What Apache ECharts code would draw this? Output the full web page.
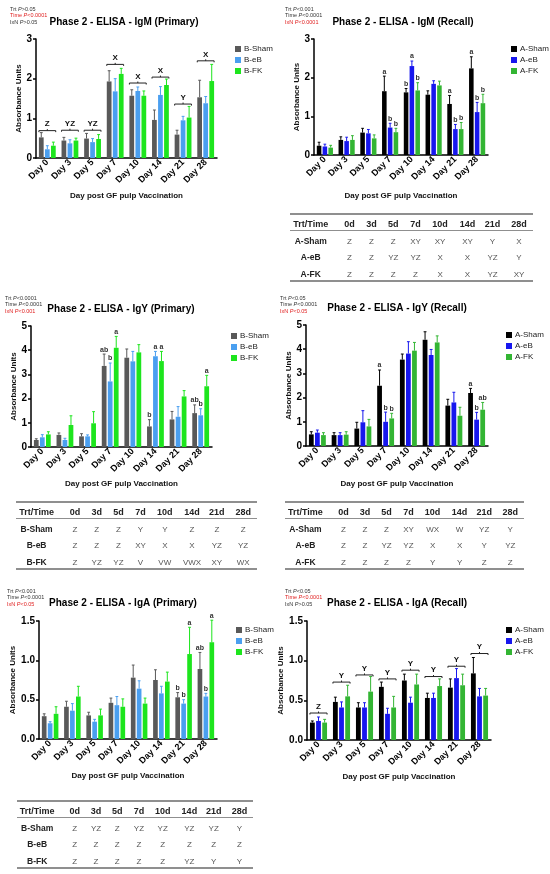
<!DOCTYPE html>
<html>
<head>
<meta charset="utf-8">
<script src="https://cdn.jsdelivr.net/npm/echarts@6/dist/echarts.min.js"></script>
<style>
  body { margin: 0; background: #fff; }
  #page { position: relative; width: 550px; height: 874px; font-family: 'Liberation Sans', Arial, sans-serif; }
  #chart { position: absolute; left: 0; top: 0; width: 550px; height: 874px; }
  .tbl { position: absolute; height: 70px; }
  .tbl .ln { position: absolute; left: 0; right: 0; background: #8f8f8f; }
  .tbl .c { position: absolute; transform: translate(-50%, -50%); white-space: nowrap; font-size: 8px; color: #555; }
  .tbl .h { font-weight: bold; color: #222; font-size: 9px; }
  .tbl .r { font-weight: bold; color: #222; font-size: 8.5px; }
</style>
</head>
<body>
<div id="page"><div id="chart"></div></div>
<script>
const days = ['Day 0', 'Day 3', 'Day 5', 'Day 7', 'Day 10', 'Day 14', 'Day 21', 'Day 28']
const primaryNames = ['B-Sham', 'B-eB', 'B-FK']
const recallNames = ['A-Sham', 'A-eB', 'A-FK']

// IgM primary
const igmPrimSham = [0.52, 0.44, 0.49, 1.93, 1.57, 0.96, 0.59, 1.53]
const igmPrimShamSem = [0.12, 0.08, 0.13, 0.27, 0.15, 0.25, 0.11, 0.43]
const igmPrimEB = [0.22, 0.37, 0.40, 1.68, 1.69, 1.59, 0.95, 1.38]
const igmPrimEBSem = [0.09, 0.09, 0.09, 0.32, 0.10, 0.21, 0.10, 0.17]
const igmPrimFK = [0.31, 0.44, 0.48, 2.12, 1.57, 1.84, 1.02, 1.94]
const igmPrimFKSem = [0.09, 0.06, 0.11, 0.14, 0.12, 0.15, 0.28, 0.42]
const igmPrimBracketY = [0.69, 0.70, 0.70, 2.36, 1.89, 2.04, 1.36, 2.45]
const igmPrimBracketLabels = ['Z', 'YZ', 'YZ', 'X', 'X', 'X', 'Y', 'X']

// IgM recall
const igmRecSham = [0.24, 0.39, 0.58, 1.65, 1.62, 1.56, 1.32, 2.24]
const igmRecShamSem = [0.09, 0.08, 0.11, 0.39, 0.10, 0.10, 0.22, 0.30]
const igmRecEB = [0.22, 0.36, 0.56, 0.71, 2.30, 1.84, 0.67, 1.11]
const igmRecEBSem = [0.06, 0.10, 0.10, 0.11, 0.13, 0.08, 0.12, 0.25]
const igmRecFK = [0.19, 0.39, 0.43, 0.59, 1.67, 1.80, 0.67, 1.34]
const igmRecFKSem = [0.06, 0.11, 0.09, 0.10, 0.20, 0.11, 0.17, 0.23]
const igmRecLetters = [
  ['', '', '', 'a', 'b', '', 'a', 'a'],
  ['', '', '', 'b', 'a', '', 'b', 'b'],
  ['', '', '', 'b', 'b', '', 'b', 'b']
]

// IgY primary
const igyPrimSham = [0.29, 0.50, 0.44, 3.35, 3.69, 0.85, 1.14, 1.40]
const igyPrimShamSem = [0.05, 0.08, 0.11, 0.49, 0.36, 0.28, 0.33, 0.34]
const igyPrimEB = [0.40, 0.29, 0.44, 2.71, 3.54, 3.75, 1.25, 1.31]
const igyPrimEBSem = [0.11, 0.07, 0.06, 0.76, 0.41, 0.20, 0.42, 0.27]
const igyPrimFK = [0.52, 0.91, 0.98, 4.10, 3.91, 3.55, 2.09, 2.51]
const igyPrimFKSem = [0.11, 0.38, 0.48, 0.47, 0.32, 0.40, 0.24, 0.45]
const igyPrimLetters = [
  ['', '', '', 'ab', '', 'b', '', 'ab'],
  ['', '', '', 'b', '', 'a', '', 'b'],
  ['', '', '', 'a', '', 'a', '', 'a']
]

// IgY recall
const igyRecSham = [0.48, 0.45, 0.72, 2.49, 3.57, 4.39, 1.67, 2.19]
const igyRecShamSem = [0.11, 0.10, 0.26, 0.65, 0.23, 0.33, 0.26, 0.19]
const igyRecEB = [0.55, 0.45, 0.98, 1.00, 3.82, 3.76, 1.80, 1.09]
const igyRecEBSem = [0.11, 0.10, 0.48, 0.40, 0.49, 0.23, 0.42, 0.30]
const igyRecFK = [0.45, 0.47, 0.81, 1.14, 3.94, 4.28, 1.25, 1.50]
const igyRecFKSem = [0.10, 0.12, 0.29, 0.21, 0.34, 0.27, 0.35, 0.30]
const igyRecLetters = [
  ['', '', '', 'a', '', '', '', 'a'],
  ['', '', '', 'b', '', '', '', 'b'],
  ['', '', '', 'b', '', '', '', 'ab']
]

// IgA primary
const igaPrimSham = [0.29, 0.41, 0.30, 0.46, 0.78, 0.75, 0.53, 0.89]
const igaPrimShamSem = [0.03, 0.07, 0.04, 0.06, 0.16, 0.13, 0.06, 0.21]
const igaPrimEB = [0.20, 0.36, 0.22, 0.43, 0.64, 0.58, 0.45, 0.54]
const igaPrimEBSem = [0.02, 0.09, 0.03, 0.11, 0.10, 0.09, 0.05, 0.04]
const igaPrimFK = [0.32, 0.54, 0.30, 0.41, 0.45, 0.73, 1.08, 1.23]
const igaPrimFKSem = [0.09, 0.13, 0.08, 0.10, 0.07, 0.12, 0.34, 0.28]
const igaPrimLetters = [
  ['', '', '', '', '', '', 'b', 'ab'],
  ['', '', '', '', '', '', 'b', 'b'],
  ['', '', '', '', '', '', 'a', 'a']
]

// IgA recall
const igaRecSham = [0.22, 0.48, 0.41, 0.67, 0.75, 0.53, 0.66, 0.84]
const igaRecShamSem = [0.02, 0.06, 0.06, 0.06, 0.08, 0.06, 0.11, 0.20]
const igaRecEB = [0.24, 0.41, 0.41, 0.33, 0.47, 0.53, 0.78, 0.55]
const igaRecEBSem = [0.05, 0.07, 0.06, 0.07, 0.07, 0.06, 0.12, 0.10]
const igaRecFK = [0.22, 0.55, 0.61, 0.41, 0.70, 0.68, 0.69, 0.56]
const igaRecFKSem = [0.04, 0.14, 0.19, 0.14, 0.13, 0.09, 0.14, 0.09]
const igaRecBracketY = [0.34, 0.73, 0.82, 0.77, 0.88, 0.80, 0.93, 1.09]
const igaRecBracketLabels = ['Z', 'Y', 'Y', 'Y', 'Y', 'Y', 'Y', 'Y']

// tables of letters
const tableHead = ['Trt/Time', '0d', '3d', '5d', '7d', '10d', '14d', '21d', '28d']
const igmRecTable = [
  ['A-Sham', 'Z', 'Z', 'Z', 'XY', 'XY', 'XY', 'Y', 'X'],
  ['A-eB', 'Z', 'Z', 'YZ', 'YZ', 'X', 'X', 'YZ', 'Y'],
  ['A-FK', 'Z', 'Z', 'Z', 'Z', 'X', 'X', 'YZ', 'XY']
]
const igyPrimTable = [
  ['B-Sham', 'Z', 'Z', 'Z', 'Y', 'Y', 'Z', 'Z', 'Z'],
  ['B-eB', 'Z', 'Z', 'Z', 'XY', 'X', 'X', 'YZ', 'YZ'],
  ['B-FK', 'Z', 'YZ', 'YZ', 'V', 'VW', 'VWX', 'XY', 'WX']
]
const igyRecTable = [
  ['A-Sham', 'Z', 'Z', 'Z', 'XY', 'WX', 'W', 'YZ', 'Y'],
  ['A-eB', 'Z', 'Z', 'YZ', 'YZ', 'X', 'X', 'Y', 'YZ'],
  ['A-FK', 'Z', 'Z', 'Z', 'Z', 'Y', 'Y', 'Z', 'Z']
]
const igaPrimTable = [
  ['B-Sham', 'Z', 'YZ', 'Z', 'YZ', 'YZ', 'YZ', 'YZ', 'Y'],
  ['B-eB', 'Z', 'Z', 'Z', 'Z', 'Z', 'Z', 'Z', 'Z'],
  ['B-FK', 'Z', 'Z', 'Z', 'Z', 'Z', 'YZ', 'Y', 'Y']
]

const FF = "'Liberation Sans', Arial, sans-serif"
const primaryColors = ['#595959', '#4a9ff0', '#1de51d']
const recallColors = ['#000000', '#1717ee', '#33b533']
const BAR_FRAC = 0.21
const GAP_FRAC = 0.27

const panels = [
  {
    title: 'Phase 2 - ELISA - IgM (Primary)', names: primaryNames, colors: primaryColors,
    means: [igmPrimSham, igmPrimEB, igmPrimFK], sems: [igmPrimShamSem, igmPrimEBSem, igmPrimFKSem],
    bracketY: igmPrimBracketY, bracketLabels: igmPrimBracketLabels,
    stats: [['Trt', '>0.05', false], ['Time', '<0.0001', true], ['IxN', '>0.05', false]],
    max: 3, interval: 1, grid: { left: 36, top: 39, width: 181, height: 119 },
    titleAt: [124, 22], statsAt: [10, 9], legendAt: [230, 40], nameGap: 34, yNameGap: 9
  },
  {
    title: 'Phase 2 - ELISA - IgM (Recall)', names: recallNames, colors: recallColors,
    means: [igmRecSham, igmRecEB, igmRecFK], sems: [igmRecShamSem, igmRecEBSem, igmRecFKSem],
    letters: igmRecLetters,
    stats: [['Trt', '<0.001', false], ['Time', '<0.0001', false], ['IxN', '<0.0001', true]],
    max: 3, interval: 1, grid: { left: 314, top: 39, width: 174, height: 116 },
    titleAt: [403, 22], statsAt: [285, 9], legendAt: [506, 40], nameGap: 37, yNameGap: 9
  },
  {
    title: 'Phase 2 - ELISA - IgY (Primary)', names: primaryNames, colors: primaryColors,
    means: [igyPrimSham, igyPrimEB, igyPrimFK], sems: [igyPrimShamSem, igyPrimEBSem, igyPrimFKSem],
    letters: igyPrimLetters,
    stats: [['Trt', '<0.0001', false], ['Time', '<0.0001', false], ['IxN', '<0.001', true]],
    max: 5, interval: 1, grid: { left: 31, top: 326, width: 181, height: 121 },
    titleAt: [121, 309], statsAt: [5, 298], legendAt: [226, 327], nameGap: 33, yNameGap: 9
  },
  {
    title: 'Phase 2 - ELISA - IgY (Recall)', names: recallNames, colors: recallColors,
    means: [igyRecSham, igyRecEB, igyRecFK], sems: [igyRecShamSem, igyRecEBSem, igyRecFKSem],
    letters: igyRecLetters,
    stats: [['Trt', '<0.05', false], ['Time', '<0.0001', false], ['IxN', '<0.05', true]],
    max: 5, interval: 1, grid: { left: 306, top: 325, width: 182, height: 121 },
    titleAt: [397, 308], statsAt: [280, 298], legendAt: [501, 326], nameGap: 34, yNameGap: 10
  },
  {
    title: 'Phase 2 - ELISA - IgA (Primary)', names: primaryNames, colors: primaryColors,
    means: [igaPrimSham, igaPrimEB, igaPrimFK], sems: [igaPrimShamSem, igaPrimEBSem, igaPrimFKSem],
    letters: igaPrimLetters,
    stats: [['Trt', '<0.001', false], ['Time', '<0.0001', false], ['IxN', '<0.05', true]],
    max: 1.5, interval: 0.5, grid: { left: 39, top: 621, width: 178, height: 118 },
    titleAt: [123, 603], statsAt: [7, 591], legendAt: [231, 621], nameGap: 33, yNameGap: 17
  },
  {
    title: 'Phase 2 - ELISA - IgA (Recall)', names: recallNames, colors: recallColors,
    means: [igaRecSham, igaRecEB, igaRecFK], sems: [igaRecShamSem, igaRecEBSem, igaRecFKSem],
    bracketY: igaRecBracketY, bracketLabels: igaRecBracketLabels,
    stats: [['Trt', '<0.05', false], ['Time', '<0.0001', true], ['IxN', '>0.05', false]],
    max: 1.5, interval: 0.5, grid: { left: 307, top: 621, width: 184, height: 119 },
    titleAt: [397, 603], statsAt: [285, 591], legendAt: [501, 621], nameGap: 33, yNameGap: 13
  }
]

const barX = (api, c, g) => {
  const band = api.size([1, 0])[0]
  const bw = band * BAR_FRAC
  return { x: api.coord([c, 0])[0] + (g - 1) * bw * (1 + GAP_FRAC), bw }
}

const errorSeries = (p, pi) => {
  const data = []
  const marks = []
  p.means.forEach((arr, g) => arr.forEach((m, c) => {
    data.push([c, m, m + p.sems[g][c], g])
    marks.push(p.letters ? p.letters[g][c] : '')
  }))
  return {
    type: 'custom', xAxisIndex: pi, yAxisIndex: pi, silent: true, z: 3, data,
    renderItem: (params, api) => {
      const c = api.value(0), g = api.value(3)
      const { x, bw } = barX(api, c, g)
      const y0 = api.coord([c, api.value(1)])[1]
      const y1 = api.coord([c, api.value(2)])[1]
      const cap = bw * 0.3
      const st = { stroke: p.colors[g], lineWidth: 1 }
      const children = [
        { type: 'line', shape: { x1: x, y1: y0, x2: x, y2: y1 }, style: st },
        { type: 'line', shape: { x1: x - cap, y1: y1, x2: x + cap, y2: y1 }, style: st }
      ]
      const lt = marks[params.dataIndex]
      if (lt) {
        children.push({
          type: 'text', x: x, y: y1 - 1,
          style: { text: lt, textAlign: 'center', textVerticalAlign: 'bottom', font: 'bold 7px ' + FF, fill: '#333' }
        })
      }
      return { type: 'group', children }
    }
  }
}

const bracketSeries = (p, pi) => ({
  type: 'custom', xAxisIndex: pi, yAxisIndex: pi, silent: true, z: 4,
  data: p.bracketY.map((y, c) => [c, y]),
  renderItem: (params, api) => {
    const c = api.value(0)
    const left = barX(api, c, 0)
    const right = barX(api, c, 2)
    const x1 = left.x - left.bw / 2, x2 = right.x + right.bw / 2
    const xm = (x1 + x2) / 2
    const y = api.coord([c, api.value(1)])[1]
    const st = { stroke: '#222', lineWidth: 1 }
    return {
      type: 'group',
      children: [
        { type: 'line', shape: { x1, y1: y, x2, y2: y }, style: st },
        { type: 'line', shape: { x1, y1: y, x2: x1, y2: y + 1.5 }, style: st },
        { type: 'line', shape: { x1: x2, y1: y, x2: x2, y2: y + 1.5 }, style: st },
        { type: 'line', shape: { x1: xm, y1: y, x2: xm, y2: y - 1.5 }, style: st },
        {
          type: 'text', x: xm, y: y - 2.5,
          style: { text: p.bracketLabels[c], textAlign: 'center', textVerticalAlign: 'bottom', font: 'bold 8px ' + FF, fill: '#111' }
        }
      ]
    }
  }
})

const option = {
  animation: false,
  grid: [], xAxis: [], yAxis: [], series: [], legend: [], graphic: []
}

panels.forEach((p, pi) => {
  option.grid.push(Object.assign({ outerBoundsMode: 'none', containLabel: false }, p.grid))
  option.xAxis.push({
    type: 'category', gridIndex: pi, data: days,
    name: 'Day post GF pulp Vaccination', nameLocation: 'middle', nameGap: p.nameGap,
    nameTextStyle: { fontFamily: FF, fontWeight: 'bold', fontSize: 8, color: '#111' },
    axisLine: { lineStyle: { color: '#000', width: 1.5 } },
    axisTick: { show: false },
    axisLabel: { interval: 0, rotate: 45, margin: 3, fontFamily: FF, fontWeight: 'bold', fontSize: 9, color: '#000' }
  })
  option.yAxis.push({
    type: 'value', gridIndex: pi, min: 0, max: p.max, interval: p.interval,
    name: 'Absorbance Units', nameLocation: 'middle', nameGap: p.yNameGap,
    nameTextStyle: { fontFamily: FF, fontWeight: 'bold', fontSize: 8, color: '#111' },
    axisLine: { show: true, lineStyle: { color: '#000', width: 1.5 } },
    axisTick: { show: true, length: 3, lineStyle: { color: '#000', width: 1.5 } },
    splitLine: { show: false },
    axisLabel: {
      margin: 4, fontFamily: FF, fontWeight: 'bold', fontSize: 10, color: '#000',
      formatter: v => p.interval < 1 ? v.toFixed(1) : String(v)
    }
  })
  p.means.forEach((arr, g) => {
    option.series.push({
      type: 'bar', name: p.names[g], xAxisIndex: pi, yAxisIndex: pi, data: arr,
      barWidth: (BAR_FRAC * 100) + '%', barGap: (GAP_FRAC * 100) + '%',
      itemStyle: { color: p.colors[g] }, silent: true
    })
  })
  option.series.push(errorSeries(p, pi))
  if (p.bracketY) option.series.push(bracketSeries(p, pi))
  option.legend.push({
    data: p.names, orient: 'vertical', left: p.legendAt[0], top: p.legendAt[1],
    icon: 'rect', itemWidth: 6, itemHeight: 6, itemGap: 3,
    textStyle: { fontFamily: FF, fontSize: 8, color: '#222', lineHeight: 8, padding: [0, 0, 0, -2] }
  })
  option.graphic.push({
    type: 'text', x: p.titleAt[0], y: p.titleAt[1],
    style: { text: p.title, textAlign: 'center', textVerticalAlign: 'middle', font: 'bold 10px ' + FF, fill: '#000' }
  })
  p.stats.forEach((s, k) => {
    const col = s[2] ? '#e02020' : '#333'
    option.graphic.push({
      type: 'text', x: p.statsAt[0], y: p.statsAt[1] + k * 6.5,
      style: {
        text: '{n|' + s[0] + ' }{i|P}{n|' + s[1] + '}', textVerticalAlign: 'middle',
        rich: {
          n: { fontSize: 5.5, fontFamily: FF, fill: col },
          i: { fontSize: 5.5, fontFamily: FF, fontStyle: 'italic', fill: col }
        }
      }
    })
  })
})

const chart = echarts.init(document.getElementById('chart'), null, { renderer: 'canvas' })
chart.setOption(option)

// letter tables under the recall/primary plots
const tables = [
  { rows: igmRecTable, left: 290, top: 214, width: 243 },
  { rows: igyPrimTable, left: 16, top: 502, width: 241 },
  { rows: igyRecTable, left: 285, top: 502, width: 239 },
  { rows: igaPrimTable, left: 17, top: 801, width: 236 }
]
const colCenters = [20.5, 58.7, 80.4, 102, 124, 148.2, 175.3, 200, 226.2]
const rowY = [9.5, 26.5, 43, 60]

tables.forEach(t => {
  const el = document.createElement('div')
  el.className = 'tbl'
  el.style.left = t.left + 'px'
  el.style.top = t.top + 'px'
  el.style.width = t.width + 'px'
  ;[[0, 2], [16.5, 1.2], [67, 2]].forEach(([y, h]) => {
    const ln = document.createElement('div')
    ln.className = 'ln'
    ln.style.top = (y - h / 2) + 'px'
    ln.style.height = h + 'px'
    el.appendChild(ln)
  })
  ;[tableHead, ...t.rows].forEach((row, ri) => {
    row.forEach((txt, ci) => {
      const c = document.createElement('div')
      c.className = 'c' + (ri === 0 ? ' h' : (ci === 0 ? ' r' : ''))
      c.textContent = txt
      c.style.left = (colCenters[ci] * t.width / 240) + 'px'
      c.style.top = rowY[ri] + 'px'
      el.appendChild(c)
    })
  })
  document.getElementById('page').appendChild(el)
})
</script>
</body>
</html>
